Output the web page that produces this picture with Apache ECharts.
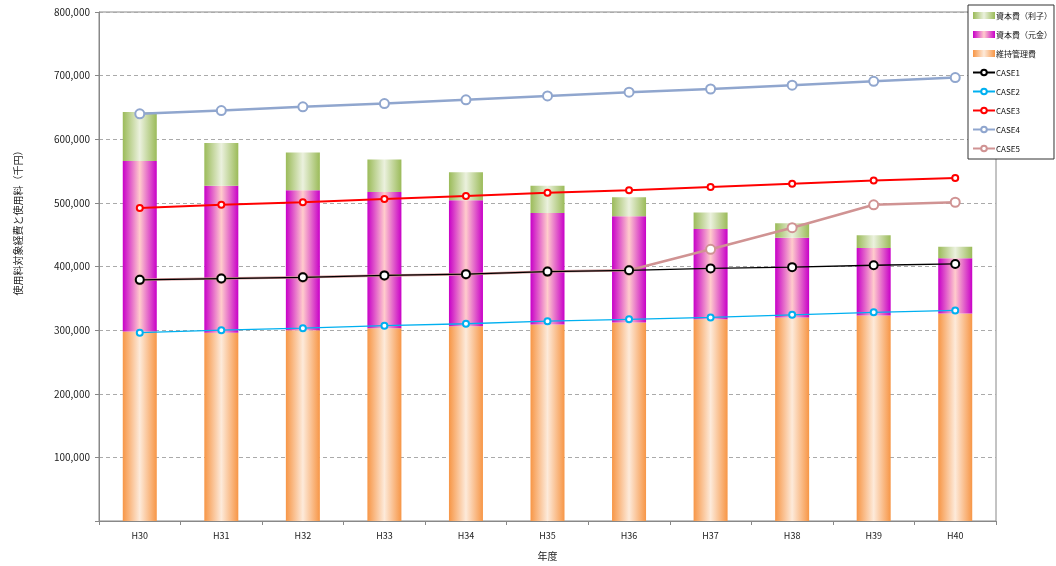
<!DOCTYPE html>
<html><head><meta charset="utf-8">
<script src="https://cdn.jsdelivr.net/npm/echarts@6/dist/echarts.min.js"></script>
<style>html,body{margin:0;padding:0;background:#fff}#c{width:1056px;height:566px}</style>
</head><body><div id="c"></div>
<script>
const categories = ['H30','H31','H32','H33','H34','H35','H36','H37','H38','H39','H40'];
const maintenance = [298000,296000,300000,303000,306000,309000,312000,317000,320000,323000,326000];
const principal = [268000,231000,220000,214000,198000,175000,167000,142000,125000,106000,87000];
const interest = [77000,67000,59000,51000,44000,43000,30000,26000,23000,20000,18000];
const case1 = [379000,381000,383000,386000,388000,392000,394000,397000,399000,402000,404000];
const case2 = [296000,300000,303000,307000,310000,314000,317000,320000,324000,328000,331000];
const case3 = [492000,497000,501000,506000,511000,516000,520000,525000,530000,535000,539000];
const case4 = [640000,645000,651000,656000,662000,668000,674000,679000,685000,691000,697000];
const case5 = [379000,381000,383000,386000,388000,392000,394000,427000,461000,497000,501000];
const yTicks = [0,100000,200000,300000,400000,500000,600000,700000,800000];

function grad(edge, mid){
  return new echarts.graphic.LinearGradient(0,0,1,0,[
    {offset:0,color:edge},{offset:0.5,color:mid},{offset:1,color:edge}]);
}
const FONT = '"Noto Sans CJK JP", sans-serif';
const chart = echarts.init(document.getElementById('c'));
function lineS(name, data, color, width, size, z){
  return {name, type:'line', data, color, symbol:'emptyCircle', symbolSize:size, z,
    lineStyle:{color, width}, itemStyle:{color, borderColor:color, borderWidth:1}};
}
chart.setOption({
  animation:false,
  textStyle:{fontFamily:FONT},
  grid:{left:99, right:60, top:12, bottom:41, show:true, borderColor:'#888', borderWidth:1},
  legend:{
    orient:'vertical', left:968, top:5,
    itemWidth:22, itemHeight:7, itemGap:8,
    padding:[5,2,5,4],
    borderColor:'#333', borderWidth:1, backgroundColor:'#fff',
    textStyle:{fontSize:8, lineHeight:11, color:'#111', fontFamily:FONT, padding:[0,0,0,-4]},
    data:[
      {name:'資本費（利子）', icon:'rect'},
      {name:'資本費（元金）', icon:'rect'},
      {name:'維持管理費', icon:'rect'},
      'CASE1','CASE2','CASE3','CASE4','CASE5']
  },
  xAxis:{
    type:'category', data:categories,
    name:'年度', nameLocation:'middle', nameGap:30,
    nameTextStyle:{fontSize:10, color:'#222', fontFamily:FONT},
    axisLine:{lineStyle:{color:'#888'}},
    axisTick:{show:true, alignWithLabel:false, length:4, lineStyle:{color:'#888'}},
    axisLabel:{fontSize:9, color:'#222', margin:10}
  },
  yAxis:{
    type:'value', min:0, max:800000, interval:100000,
    name:'使用料対象経費と使用料（千円）', nameLocation:'middle', nameGap:76, nameRotate:90,
    nameTextStyle:{fontSize:10, color:'#222', fontFamily:FONT, padding:[0,0,0,92]},
    axisLine:{show:true, lineStyle:{color:'#888'}},
    axisTick:{show:true, length:4, lineStyle:{color:'#888'}},
    axisLabel:{fontSize:10, color:'#222', margin:9,
      formatter:v => yTicks.includes(v) ? (v===0 ? '' : v.toLocaleString('en-US')) : ''},
    splitLine:{show:true, lineStyle:{color:'#aaa', type:[4,3]}}
  },
  series:[
    {name:'維持管理費', type:'bar', stack:'s', data:maintenance, barWidth:34,
      itemStyle:{color:grad('#F79646','#FDEADA')}},
    {name:'資本費（元金）', type:'bar', stack:'s', data:principal, barWidth:34,
      itemStyle:{color:grad('#C800C8','#FFCCCC')}},
    {name:'資本費（利子）', type:'bar', stack:'s', data:interest, barWidth:34,
      itemStyle:{color:grad('#9BBB59','#EBF1DE')}},
    lineS('CASE5', case5, '#D09393', 2.5, 9, 3),
    lineS('CASE1', case1, '#000000', 1.3, 8, 4),
    lineS('CASE2', case2, '#00B0F0', 1.3, 6, 4),
    lineS('CASE3', case3, '#FF0000', 2, 6, 4),
    lineS('CASE4', case4, '#90A6CE', 2.5, 9, 4)
  ]
});
</script></body></html>
